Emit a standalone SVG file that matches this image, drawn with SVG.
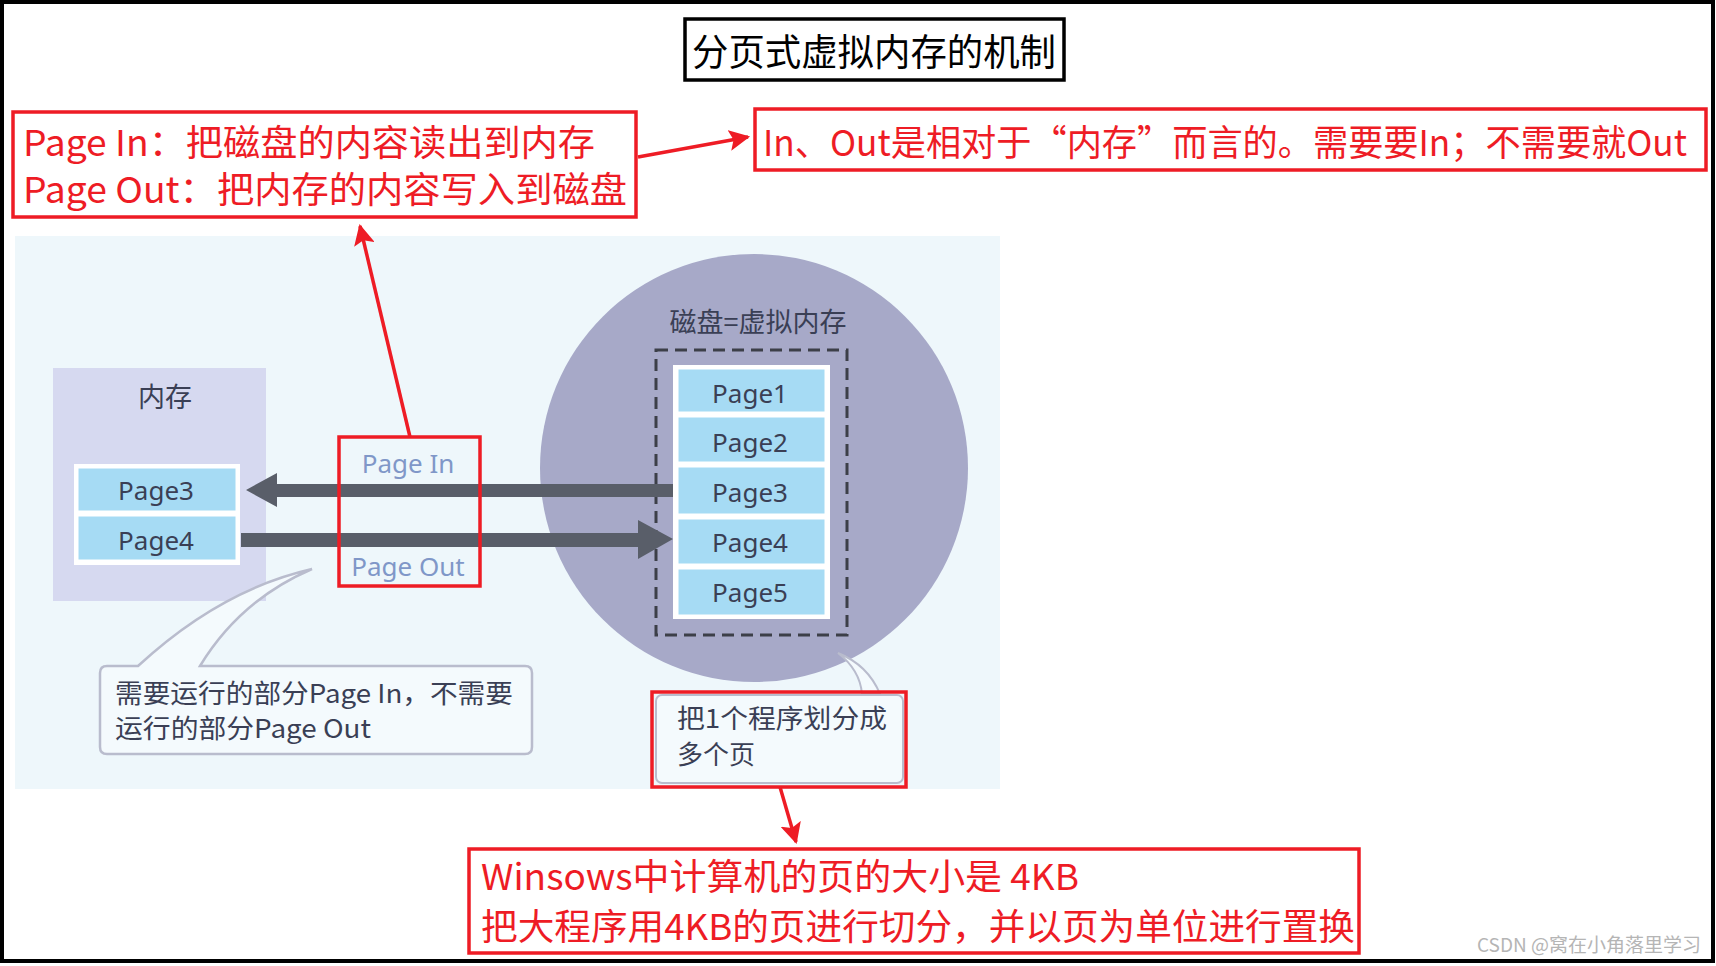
<svg xmlns="http://www.w3.org/2000/svg" width="1716" height="966" viewBox="0 0 1716 966">
<defs>
<style>
.cjk{font-family:"Noto Sans CJK SC","Noto Sans",sans-serif}
.red{fill:#ee1c25}
.rbox{fill:none;stroke:#ee1c25;stroke-width:3.5}
.cell{fill:#a6dbf4;stroke:#ffffff;stroke-width:3}
.pg{font-family:"Noto Sans","Noto Sans CJK SC",sans-serif;font-size:26px;fill:#3a3f55;text-anchor:middle}
.dark{fill:#595e69}
</style>
<marker id="ra" viewBox="0 0 10 10" refX="9" refY="5" markerWidth="6" markerHeight="6" orient="auto" markerUnits="strokeWidth"><path d="M0,0 L10,5 L0,10 L2,5 z" fill="#ee1c25"/></marker>
</defs>
<rect x="0" y="0" width="1716" height="966" fill="#ffffff"/>
<rect x="2" y="2" width="1711" height="959" fill="none" stroke="#000" stroke-width="4"/>

<g id="title">
<rect x="685" y="19" width="379" height="61" fill="#fff" stroke="#000" stroke-width="3.5"/>
<text x="874" y="66" class="cjk" font-size="37" text-anchor="middle" fill="#000" textLength="364" lengthAdjust="spacingAndGlyphs">分页式虚拟内存的机制</text>
</g>

<g id="note-pageinout">
<rect x="13" y="112" width="623" height="105" class="rbox"/>
<text x="23" y="156" class="cjk red" font-size="36" textLength="572" lengthAdjust="spacingAndGlyphs">Page In：把磁盘的内容读出到内存</text>
<text x="23" y="203" class="cjk red" font-size="36" textLength="604" lengthAdjust="spacingAndGlyphs">Page Out：把内存的内容写入到磁盘</text>
</g>

<g id="note-inout">
<rect x="755" y="109" width="951" height="61" class="rbox"/>
<text x="763" y="156" class="cjk red" font-size="36" textLength="924" lengthAdjust="spacingAndGlyphs">In、Out是相对于“内存”而言的。需要要In；不需要就Out</text>
</g>

<g id="photo">
<rect x="15" y="236" width="985" height="553" fill="#eef7fb"/>
<g id="memory">
<rect x="53" y="368" width="213" height="233" fill="#d6d9f0"/>
<text x="165" y="407" class="cjk" font-size="27" fill="#3a3f55" text-anchor="middle">内存</text>
<rect x="74" y="464" width="166" height="101" fill="#ffffff"/>
<rect x="77" y="467" width="160" height="45" class="cell"/>
<rect x="77" y="515" width="160" height="46" class="cell"/>
<text x="156" y="500" class="pg">Page3</text>
<text x="156" y="550" class="pg">Page4</text>
</g>
<g id="disk">
<circle cx="754" cy="468" r="214" fill="#a7a9c8"/>
<text x="758" y="332" class="cjk" font-size="27" fill="#3a3f55" text-anchor="middle">磁盘=虚拟内存</text>
<rect x="656" y="350" width="191" height="285" fill="none" stroke="#3c3f48" stroke-width="3" stroke-dasharray="12,7"/>
<rect x="673" y="365" width="157" height="254" fill="#ffffff"/>
<rect x="677" y="368" width="149" height="45" class="cell"/>
<rect x="677" y="416" width="149" height="47" class="cell"/>
<rect x="677" y="466" width="149" height="49" class="cell"/>
<rect x="677" y="518" width="149" height="47" class="cell"/>
<rect x="677" y="568" width="149" height="48" class="cell"/>
<text x="750" y="403" class="pg">Page1</text>
<text x="750" y="452" class="pg">Page2</text>
<text x="750" y="502" class="pg">Page3</text>
<text x="750" y="552" class="pg">Page4</text>
<text x="750" y="602" class="pg">Page5</text>
</g>
<g id="transfer-arrows">
<path d="M673,484 L277,484 L277,473 L246,490 L277,507 L277,497 L673,497 z" class="dark"/>
<path d="M241,533 L638,533 L638,520 L673,539 L638,559 L638,547 L241,547 z" class="dark"/>
<text x="408" y="473" font-family="Noto Sans,sans-serif" font-size="26" fill="#8097c8" text-anchor="middle">Page In</text>
<text x="408" y="576" font-family="Noto Sans,sans-serif" font-size="26" fill="#8097c8" text-anchor="middle">Page Out</text>
</g>
<g id="callout1">
<path d="M107,666 L138,666 Q220,590 312,569 Q240,600 200,666 L525,666 Q532,666 532,673 L532,747 Q532,754 525,754 L107,754 Q100,754 100,747 L100,673 Q100,666 107,666 z" fill="#f4fafd" stroke="#b9bccd" stroke-width="2.5"/>
<text x="115" y="703" class="cjk" font-size="26" fill="#3a3f55" textLength="398" lengthAdjust="spacingAndGlyphs">需要运行的部分Page In，不需要</text>
<text x="115" y="738" class="cjk" font-size="26" fill="#3a3f55" textLength="256" lengthAdjust="spacingAndGlyphs">运行的部分Page Out</text>
</g>
<g id="callout2">
<path d="M838,653 Q860,670 862,694 L880,694 Q868,665 838,653 z" fill="#f4fafd" stroke="#b9bccd" stroke-width="2"/>
<rect x="656" y="695" width="247" height="88" rx="6" fill="#f4fafd" stroke="#b9bccd" stroke-width="2"/>
<rect x="652" y="692" width="254" height="95" class="rbox"/>
<text x="677" y="728" class="cjk" font-size="26" fill="#3a3f55" textLength="210" lengthAdjust="spacingAndGlyphs">把1个程序划分成</text>
<text x="677" y="764" class="cjk" font-size="26" fill="#3a3f55">多个页</text>
</g>
<g id="pageinout-box">
<rect x="339" y="437" width="141" height="149" class="rbox"/>
</g>
</g>

<g id="note-4kb">
<rect x="469" y="849" width="890" height="104" class="rbox"/>
<text x="481" y="890" class="cjk red" font-size="36" textLength="598" lengthAdjust="spacingAndGlyphs">Winsows中计算机的页的大小是 4KB</text>
<text x="481" y="940" class="cjk red" font-size="36" textLength="874" lengthAdjust="spacingAndGlyphs">把大程序用4KB的页进行切分，并以页为单位进行置换</text>
</g>

<g id="connectors" fill="none" stroke="#ee1c25" stroke-width="3.5">
<line x1="410" y1="437" x2="360" y2="226" marker-end="url(#ra)"/>
<line x1="638" y1="157" x2="748" y2="137" marker-end="url(#ra)"/>
<line x1="780" y1="787" x2="796" y2="842" marker-end="url(#ra)"/>
</g>

<text x="1701" y="952" class="cjk" font-size="19" fill="#b5b5b5" text-anchor="end">CSDN @窝在小角落里学习</text>
</svg>
